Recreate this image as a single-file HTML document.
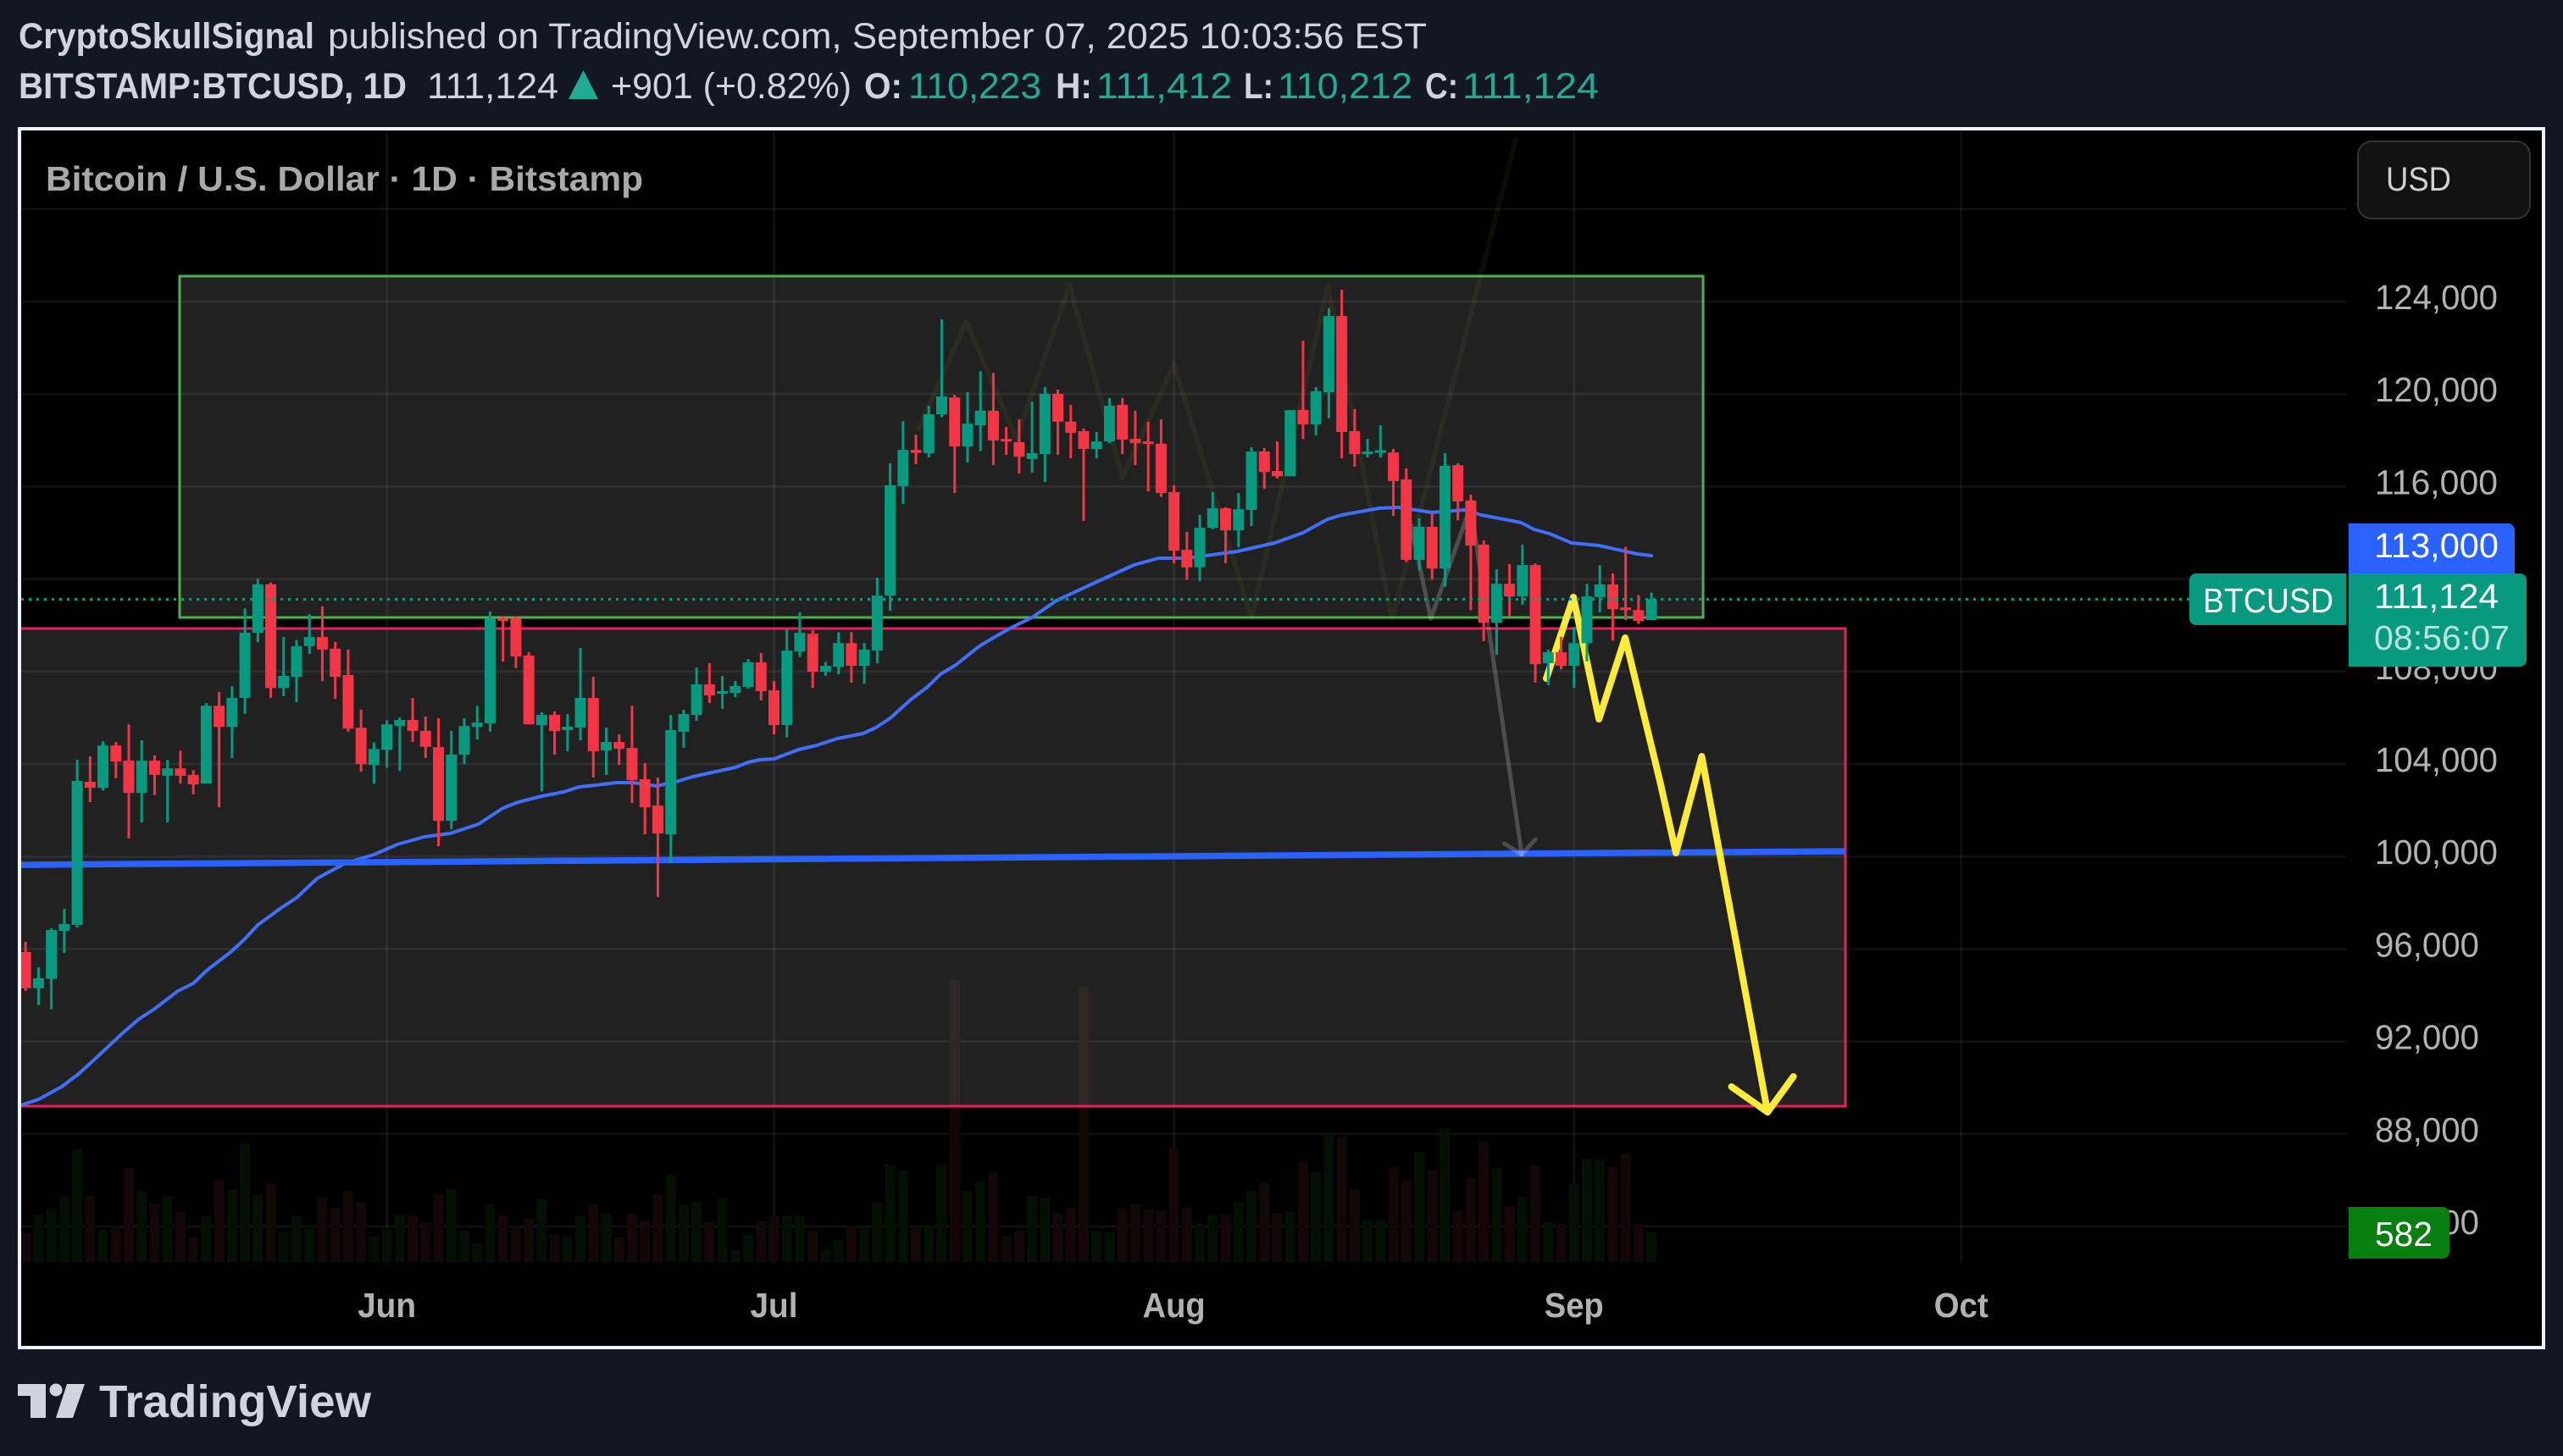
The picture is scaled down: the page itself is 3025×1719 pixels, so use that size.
<!DOCTYPE html>
<html lang="en">
<head>
<meta charset="utf-8">
<title>BITSTAMP:BTCUSD chart</title>
<style>
html,body{margin:0;padding:0;width:3025px;height:1719px;background:#131722;overflow:hidden}
svg{display:block;position:absolute;left:0;top:0}
text{font-family:"Liberation Sans",sans-serif}
</style>
</head>
<body>
<svg id="chart" xmlns="http://www.w3.org/2000/svg" width="3025" height="1719" viewBox="0 0 3025 1719">
  <defs><clipPath id="pane-clip"><rect x="25" y="154" width="2744" height="1337"/></clipPath></defs>
  <rect x="0" y="0" width="3025" height="1719" fill="#131722"/>
  <g font-size="43" fill="#d1d4dc">
    <text x="22" y="57" font-weight="bold" textLength="349" lengthAdjust="spacingAndGlyphs">CryptoSkullSignal</text>
    <text x="387" y="57" textLength="1297" lengthAdjust="spacingAndGlyphs">published on TradingView.com, September 07, 2025 10:03:56 EST</text>
    <text x="22" y="116" font-weight="bold" textLength="458" lengthAdjust="spacingAndGlyphs">BITSTAMP:BTCUSD, 1D</text>
    <text x="504" y="116" textLength="155" lengthAdjust="spacingAndGlyphs">111,124</text>
    <polygon points="671,117 688.5,83 706,117" fill="#22ab94"/>
    <text x="721" y="116" textLength="284" lengthAdjust="spacingAndGlyphs">+901 (+0.82%)</text>
    <text x="1020" y="116" font-weight="bold" textLength="45" lengthAdjust="spacingAndGlyphs">O:</text>
    <text x="1072" y="116" fill="#22ab94" textLength="157" lengthAdjust="spacingAndGlyphs">110,223</text>
    <text x="1246" y="116" font-weight="bold" textLength="43" lengthAdjust="spacingAndGlyphs">H:</text>
    <text x="1294" y="116" fill="#22ab94" textLength="160" lengthAdjust="spacingAndGlyphs">111,412</text>
    <text x="1468" y="116" font-weight="bold" textLength="35" lengthAdjust="spacingAndGlyphs">L:</text>
    <text x="1508" y="116" fill="#22ab94" textLength="159" lengthAdjust="spacingAndGlyphs">110,212</text>
    <text x="1682" y="116" font-weight="bold" textLength="39" lengthAdjust="spacingAndGlyphs">C:</text>
    <text x="1726" y="116" fill="#22ab94" textLength="161" lengthAdjust="spacingAndGlyphs">111,124</text>
  </g>
  <rect x="23" y="152" width="2979" height="1439" fill="#000" stroke="#f0f3fa" stroke-width="4"/>
  <g id="grid"></g>
  <g id="plot" clip-path="url(#pane-clip)"></g>
  <text x="54" y="225" font-size="41" font-weight="bold" fill="#a9a9a9" textLength="705" lengthAdjust="spacingAndGlyphs">Bitcoin / U.S. Dollar · 1D · Bitstamp</text>
  <g id="axes"></g>
  <g>
    <rect x="2783" y="167" width="203" height="91" rx="16" fill="#121212" stroke="#333" stroke-width="2"/>
    <text x="2816" y="225" font-size="40" fill="#d1d1d1" textLength="77" lengthAdjust="spacingAndGlyphs">USD</text>
  </g>
  <g>
    <path d="M2772 618H2960a8 8 0 0 1 8 8V677H2772Z" fill="#2962ff"/>
    <text x="2802" y="658" font-size="41" fill="#fff" textLength="147" lengthAdjust="spacingAndGlyphs">113,000</text>
  </g>
  <g>
    <path d="M2592 677H2769V738H2592a8 8 0 0 1-8-8V685a8 8 0 0 1 8-8Z" fill="#089981"/>
    <text x="2600" y="723" font-size="41" fill="#fff" textLength="154" lengthAdjust="spacingAndGlyphs">BTCUSD</text>
    <path d="M2772 677H2974a8 8 0 0 1 8 8V779a8 8 0 0 1-8 8H2772Z" fill="#089981"/>
    <text x="2802" y="718" font-size="41" fill="#fff" textLength="147" lengthAdjust="spacingAndGlyphs">111,124</text>
    <text x="2802" y="767" font-size="41" fill="#b9e3da" textLength="160" lengthAdjust="spacingAndGlyphs">08:56:07</text>
  </g>
  <g>
    <path d="M2772 1425H2883a8 8 0 0 1 8 8V1478a8 8 0 0 1-8 8H2772Z" fill="#067f10"/>
    <text x="2803" y="1471" font-size="41" fill="#fff" textLength="68" lengthAdjust="spacingAndGlyphs">582</text>
  </g>
  <g fill="#d1d4dc">
    <polygon points="21,1634 54,1634 54,1674 36,1674 36,1648 21,1648"/>
    <circle cx="66" cy="1641" r="7.5"/>
    <polygon points="79,1634 100,1634 86,1674 66,1674"/>
    <text x="117" y="1673" font-size="54" font-weight="bold" textLength="321" lengthAdjust="spacingAndGlyphs">TradingView</text>
  </g>
</svg>
<script>
const firstDay = -28; // days relative to 1 June 2025
const opens = [95868,94305,94708,96784,97040,103231,102969,104801,104147,102745,104147,103492,103810,103530,103156,106520,105604,106856,109679,111772,107286,107772,109099,109492,108987,107847,105567,103959,104614,105642,105903,105436,104726,101548,104408,105604,105754,110295,110295,108688,105679,106124,105465,105575,106857,104586,104952,104696,103340,102205,100959,105391,106124,107443,107040,107076,107333,108395,107186,105685,108862,109634,107993,108204,109227,108246,108905,111288,116013,117583,117443,119125,119854,117737,118648,119279,118060,117919,117190,117401,120008,118803,118396,117625,117947,119532,118060,117947,117849,115760,113265,112508,114218,115059,114106,114989,117513,116672,116447,119307,118690,120079,123373,118396,117401,117457,117471,116307,112830,114260,112452,116924,115396,113489,110110,111793,111246,112606,108358,108834,108246,109227,111218,111765,110769,110657,110223];
const highs = [96308,95209,96894,97736,104183,104330,104987,104950,105716,105025,104371,104184,104576,103735,106632,107118,107361,110725,112015,111847,109492,109361,110482,110819,109286,108950,106352,104931,105884,106015,106856,106053,105978,105436,105978,106520,110595,110400,110390,108838,106240,106271,106161,109018,107772,105575,105282,106527,104036,103413,106124,106344,108175,108359,107809,107589,108542,108798,107589,109816,110559,109788,108414,109704,109704,109227,112059,117008,118831,118242,119490,123233,119966,120078,120990,120920,118578,118901,119672,120303,120191,119532,118508,118354,119826,119826,119279,118803,118901,116055,114036,114765,115760,115101,115718,117695,117667,117947,119307,122308,120303,123710,124509,119349,118060,118648,117625,116784,114625,114835,117443,117008,115647,113671,112424,112648,113489,112676,108947,109507,109929,111793,112606,112241,113391,111302,111412];
const lows = [94183,93573,93390,95832,96931,102352,102857,103380,100782,101474,102651,101474,103156,102688,103156,102128,104258,106165,109267,106856,106931,106669,108763,107585,106819,105399,103660,103156,103847,103698,104950,104258,100446,101174,103997,105062,105399,108426,108146,105716,102819,104402,104549,105025,103413,103523,103963,102315,100959,98249,99714,104696,105868,106637,106380,106893,107260,106747,105282,105147,108624,107292,107811,107881,107517,107474,108358,110629,115242,116966,117260,118999,115718,117036,117527,116924,117373,116559,116602,116195,117373,117218,114513,117218,117877,117401,116924,115788,115550,112676,111961,111905,114148,112676,113377,114288,115901,116349,116447,118060,118214,118943,117218,116854,117260,117260,114723,112732,112367,111975,111666,114541,110657,109311,108722,110391,110881,107517,107404,108091,107292,108442,110559,109339,110222,110054,110212];
const closes = [94305,94733,96821,97077,103268,102974,104801,104109,102745,104147,103530,103810,103492,103118,106520,105604,106856,109679,111772,107286,107810,109099,109492,108950,107772,105529,103997,104651,105716,105903,105436,104744,101548,104408,105642,105791,110295,110200,108651,105716,106127,105428,105611,106857,104549,104952,104659,103304,102131,100996,105465,106161,107443,106967,107150,107369,108395,107150,105685,108905,109676,107993,108246,109227,108246,108947,111288,116055,117583,117457,119125,119896,117737,118719,119279,117989,117947,117288,117443,120008,118803,118326,117625,117947,119490,118032,117877,117849,115718,113223,112508,114218,115059,114106,115017,117513,116630,116447,119307,118690,120121,123373,118354,117401,117513,117569,116237,112830,114260,112452,116896,115354,113447,110110,111793,111246,112606,108316,108834,108246,109227,111246,111765,110699,110657,110181,111124];
const volumes = [565,931,1047,1296,2210,1296,632,715,1845,1396,1147,1296,981,482,897,1612,1413,2327,1330,1529,582,897,731,1263,1064,1396,1180,499,648,931,914,781,1330,1429,615,366,1130,914,715,848,1230,532,499,914,1130,947,482,947,814,1330,1712,1130,1180,781,1247,233,532,798,897,897,897,615,249,432,715,681,1180,1911,1795,665,698,1928,5534,1396,1579,1762,515,615,1296,1263,964,1064,5402,615,582,1047,1130,1030,997,2227,1064,748,914,931,1180,1396,1546,964,997,1978,1762,2510,2460,1429,814,814,1861,1612,2161,1795,2626,997,1645,2360,1845,1097,1280,1895,781,748,1529,2028,2011,1861,2127,748,582];
const maDays = [-28.4,-27,-25.2,-23.9,-22.6,-20.5,-19.2,-18,-16.2,-15,-13.9,-12.1,-11.1,-10,-8.2,-7,-5.4,-3.2,-1,0.8,2.9,4.9,7.1,9,10.2,12,13.7,14.9,16.2,17.8,19.1,20.9,22.4,23.7,25.2,27,28,28.9,30,31.9,33.3,34.9,36.9,37.9,39,40.6,41.9,42.9,44.1,45.9,47,48.4,50,51.9,55,57.9,59.8,61.6,62.5,65.9,68.8,71,72.9,74,76.9,78.4,81,83.5,84.8,87.9,88.9,90.1,91.8,93.9,96.9,98];
const maValues = [89238,89495,90044,90593,91253,92352,92974,93414,94183,94513,95099,95868,96381,97040,97773,98212,99055,99714,100081,100520,100850,100996,101399,102095,102352,102608,102791,103011,103084,103194,103194,103048,103231,103451,103634,103853,104073,104183,104220,104623,104806,105099,105319,105575,105978,106784,107333,107883,108286,109092,109458,109897,110337,111070,111875,112608,112901,112901,112938,113194,113560,114000,114586,114769,115062,115099,114879,114989,114769,114440,114147,113963,113560,113451,113084,113011];
const gridPrices = [128000,124000,120000,116000,112000,108000,104000,100000,96000,92000,88000,84000];
const priceTicks = ["124,000","120,000","116,000","112,000","108,000","104,000","100,000","96,000","92,000","88,000","84,000"];
const priceTickValues = [124000,120000,116000,112000,108000,104000,100000,96000,92000,88000,84000];
const monthLabels = ["Jun","Jul","Aug","Sep","Oct"];
const monthDays = [0,30,61,92,122];
const lastPrice = 111124;
const greenBox = {d0:-16.06,d1:102,top:125099,bottom:110337};
const pinkBox = {d0:-40,d1:113.03,top:109861,bottom:89201};
const supportDays = [-40,113];
const supportPrices = [99591,100227];
const ghostDays = [41.2,44.9,48.8,52.9,57,61,67,72.9,77.9,87.5];
const ghostPrices = [118469,123121,118066,124733,116381,121289,110300,124659,110227,131033];
const greyDays = [79.3,80.9,84,87.95];
const greyPrices = [114500,110280,115172,100080];
const greyHeadDays = [86.6,87.95,89];
const greyHeadPrices = [100557,100080,100740];
const yellowDays = [89.85,91.95,93.93,95.96,98.7,99.9,101.9,107];
const yellowPrices = [107700,111216,105941,109458,103158,100154,104330,88945];
const yellowHeadDays = [104.2,107,109];
const yellowHeadPrices = [90044,88945,90484];

const NS = 'http://www.w3.org/2000/svg';
const xOf = d => 456.6 + 15.23 * d;
const yOf = p => 356 + (124000 - p) * 0.0273;
const volTop = v => 1490 - v / 16.63;
function mk(tag, attrs, parent){
  const el = document.createElementNS(NS, tag);
  for (const k in attrs) el.setAttribute(k, attrs[k]);
  parent.appendChild(el);
  return el;
}
const polyPts = (ds, ps) => ds.map((d, i) => xOf(d).toFixed(1) + ',' + yOf(ps[i]).toFixed(1)).join(' ');
const grid = document.getElementById('grid');
const plot = document.getElementById('plot');
const axes = document.getElementById('axes');

gridPrices.forEach(p => {
  const el = mk('rect', {x:25, y:yOf(p)-1.5, width:2744, height:3, fill:'rgba(255,255,255,0.06)'}, grid);
  
  
});
monthDays.forEach(d => {
  const el = mk('rect', {x:xOf(d)-1.5, y:154, width:3, height:1337, fill:'rgba(255,255,255,0.06)'}, grid);
  
  
});

volumes.forEach((v, i) => {
  const up = closes[i] >= opens[i];
  const top = volTop(v);
  const el = mk('rect', {x:xOf(firstDay+i)-6, y:top, width:12, height:1490-top, fill:up?'#041004':'#130707'}, plot);
  
  
});

function box(b, stroke){
  const x0 = xOf(b.d0), x1 = xOf(b.d1), y0 = yOf(b.top), y1 = yOf(b.bottom);
  return mk('rect', {x:x0, y:y0, width:x1-x0, height:y1-y0, fill:'rgba(255,255,255,0.13)', stroke:stroke, 'stroke-width':3}, plot);
}
const gBox = box(greenBox, '#4caf50');


const pBox = box(pinkBox, '#e91e63');



const ghost = mk('polyline', {points:polyPts(ghostDays, ghostPrices), fill:'none', stroke:'rgba(255,235,59,0.05)', 'stroke-width':6, 'stroke-linecap':'round', 'stroke-linejoin':'round'}, plot);



const ma = mk('polyline', {points:polyPts(maDays, maValues), fill:'none', stroke:'#4070fa', 'stroke-width':4, 'stroke-linecap':'round', 'stroke-linejoin':'round'}, plot);



const support = mk('polyline', {points:polyPts(supportDays, supportPrices), fill:'none', stroke:'#2962ff', 'stroke-width':7.5}, plot);



const grey = mk('polyline', {points:polyPts(greyDays, greyPrices), fill:'none', stroke:'rgba(255,255,255,0.2)', 'stroke-width':5, 'stroke-linecap':'round', 'stroke-linejoin':'round'}, plot);


const greyHead = mk('polyline', {points:polyPts(greyHeadDays, greyHeadPrices), fill:'none', stroke:'rgba(255,255,255,0.2)', 'stroke-width':5, 'stroke-linecap':'round', 'stroke-linejoin':'round'}, plot);



const yellow = mk('polyline', {points:polyPts(yellowDays, yellowPrices), fill:'none', stroke:'#ffeb3b', 'stroke-width':8, 'stroke-linecap':'round', 'stroke-linejoin':'round'}, plot);


const yellowHead = mk('polyline', {points:polyPts(yellowHeadDays, yellowHeadPrices), fill:'none', stroke:'#ffeb3b', 'stroke-width':8, 'stroke-linecap':'round', 'stroke-linejoin':'round'}, plot);



opens.forEach((o, i) => {
  const c = closes[i], up = c >= o, col = up ? '#089981' : '#f23645', x = xOf(firstDay+i);
  const wick = mk('rect', {x:x-1.5, y:yOf(highs[i]), width:3, height:Math.max(1, yOf(lows[i])-yOf(highs[i])), fill:col}, plot);
  
  
  const top = yOf(Math.max(o, c)), bot = yOf(Math.min(o, c));
  const body = mk('rect', {x:x-6.5, y:top, width:13, height:Math.max(3, bot-top), fill:col}, plot);
  
  
});

const lastLine = mk('line', {x1:25, x2:2584, y1:yOf(lastPrice), y2:yOf(lastPrice), stroke:'#089981', 'stroke-width':3, 'stroke-dasharray':'3 6'}, plot);



priceTicks.forEach((t, i) => {
  const wide = t.length === 7;
  const el = mk('text', {x:2803, y:yOf(priceTickValues[i])+9, 'font-size':41, fill:'#b2b2b2', textLength:wide?145:123, lengthAdjust:'spacingAndGlyphs'}, axes);
  el.textContent = t;
  
  
});
monthLabels.forEach((t, i) => {
  const el = mk('text', {x:xOf(monthDays[i]), y:1555, 'font-size':41, fill:'#b2b2b2', 'text-anchor':'middle', 'font-weight':'bold', textLength:(t==='Jul'?56:t==='Aug'?74:t==='Jun'?69:t==='Sep'?70:64), lengthAdjust:'spacingAndGlyphs'}, axes);
  el.textContent = t;
  
  
});
</script>
</body>
</html>
